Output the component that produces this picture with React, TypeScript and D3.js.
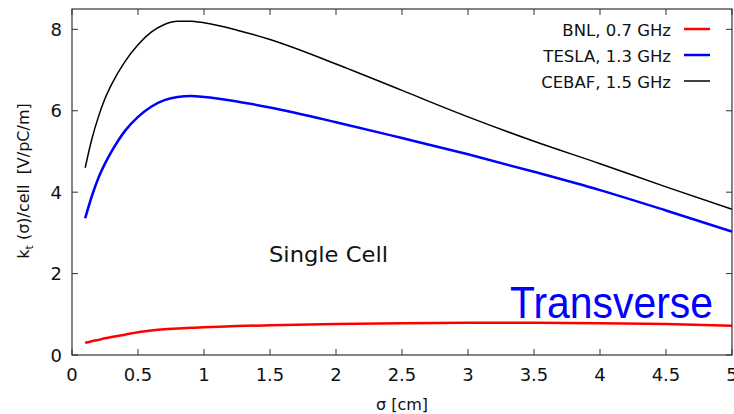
import React from "react";
import * as d3 from "d3";

const sigma = [0.1, 0.15, 0.2, 0.25, 0.3, 0.4, 0.5, 0.6, 0.7, 0.8, 0.9, 1.0, 1.25, 1.5, 2, 2.5, 3, 3.5, 4, 4.5, 5];
const bnl = [0.3, 0.34, 0.37, 0.41, 0.44, 0.5, 0.56, 0.6, 0.63, 0.65, 0.67, 0.68, 0.71, 0.73, 0.76, 0.78, 0.79, 0.79, 0.78, 0.76, 0.72];
const tesla = [3.36, 3.9, 4.35, 4.7, 5.0, 5.5, 5.85, 6.1, 6.26, 6.34, 6.36, 6.34, 6.23, 6.08, 5.72, 5.33, 4.93, 4.5, 4.05, 3.55, 3.03];
const cebaf = [4.6, 5.3, 5.85, 6.3, 6.65, 7.2, 7.62, 7.93, 8.12, 8.2, 8.2, 8.16, 7.98, 7.75, 7.15, 6.5, 5.85, 5.25, 4.7, 4.13, 3.58];

const seriesNames = ["BNL, 0.7 GHz", "TESLA, 1.3 GHz", "CEBAF, 1.5 GHz"];
const seriesColors = ["#ff0000", "#0000ff", "#000000"];
const seriesWidths = [2.5, 2.5, 1.5];
const seriesValues = [bnl, tesla, cebaf];

const xTicks = [0, 0.5, 1, 1.5, 2, 2.5, 3, 3.5, 4, 4.5, 5];
const yTicks = [0, 2, 4, 6, 8];

const W = 734;
const H = 414;

export default function App() {
  const x = d3.scaleLinear().domain([0, 5]).range([72, 732]);
  const y = d3.scaleLinear().domain([0, 8.5]).range([355, 9]);
  const line = d3
    .line<number>()
    .x((_, i) => x(sigma[i]))
    .y((d) => y(d))
    .curve(d3.curveMonotoneX);

  const [x0, x1] = x.range();
  const [yb, yt] = y.range();
  const tickLen = 6;
  const frame = "#333";
  const font = "'DejaVu Sans', sans-serif";

  return (
    <svg
      width={W}
      height={H}
      style={{ position: "absolute", left: 0, top: 0, background: "#fff" }}
      fontFamily={font}
    >
      <rect x={0} y={0} width={W} height={H} fill="#fff" />
      {/* ticks */}
      {xTicks.map((t) => (
        <g key={"xt" + t}>
          <line x1={x(t)} x2={x(t)} y1={yb} y2={yb - tickLen} stroke={frame} />
          <line x1={x(t)} x2={x(t)} y1={yt} y2={yt + tickLen} stroke={frame} />
          <text x={x(t)} y={381} textAnchor="middle" fontSize={18} fill="#111">
            {String(t)}
          </text>
        </g>
      ))}
      {yTicks.map((t) => (
        <g key={"yt" + t}>
          <line x1={x0} x2={x0 + tickLen} y1={y(t)} y2={y(t)} stroke={frame} />
          <line x1={x1} x2={x1 - tickLen} y1={y(t)} y2={y(t)} stroke={frame} />
          <text x={62} y={y(t) + 6.5} textAnchor="end" fontSize={18} fill="#111">
            {String(t)}
          </text>
        </g>
      ))}
      {/* data lines */}
      {seriesValues.map((vals, i) => (
        <path
          key={"s" + i}
          d={line(vals) || ""}
          fill="none"
          stroke={seriesColors[i]}
          strokeWidth={seriesWidths[i]}
        />
      ))}
      {/* frame */}
      <rect x={x0} y={yt} width={x1 - x0} height={yb - yt} fill="none" stroke={frame} strokeWidth={1.2} />
      {/* legend */}
      {seriesNames.map((n, i) => (
        <g key={"lg" + i}>
          <text x={671} y={35.5 + i * 26.2} textAnchor="end" fontSize={16.5} fill="#111">
            {n}
          </text>
          <line
            x1={684}
            x2={710}
            y1={29 + i * 26}
            y2={29 + i * 26}
            stroke={seriesColors[i]}
            strokeWidth={seriesWidths[i]}
          />
        </g>
      ))}
      {/* annotations */}
      <text x={269} y={262} fontSize={22} fill="#111" textLength={119} lengthAdjust="spacingAndGlyphs">
        Single Cell
      </text>
      <text
        x={510}
        y={318}
        fontSize={45}
        fill="#0000ff"
        fontFamily="'Liberation Sans', Arial, sans-serif"
        textLength={203}
        lengthAdjust="spacingAndGlyphs"
      >
        Transverse
      </text>
      {/* axis labels */}
      <text x={402} y={410} textAnchor="middle" fontSize={16} fill="#111">
        σ [cm]
      </text>
      <text
        transform="translate(29,181) rotate(-90)"
        textAnchor="middle"
        fontSize={16}
        fill="#111"
        xmlSpace="preserve"
      >
        <tspan>k</tspan>
        <tspan dy={4} fontSize={11}>t</tspan>
        <tspan dy={-4}>{" (σ)/cell  [V/pC/m]"}</tspan>
      </text>
    </svg>
  );
}
